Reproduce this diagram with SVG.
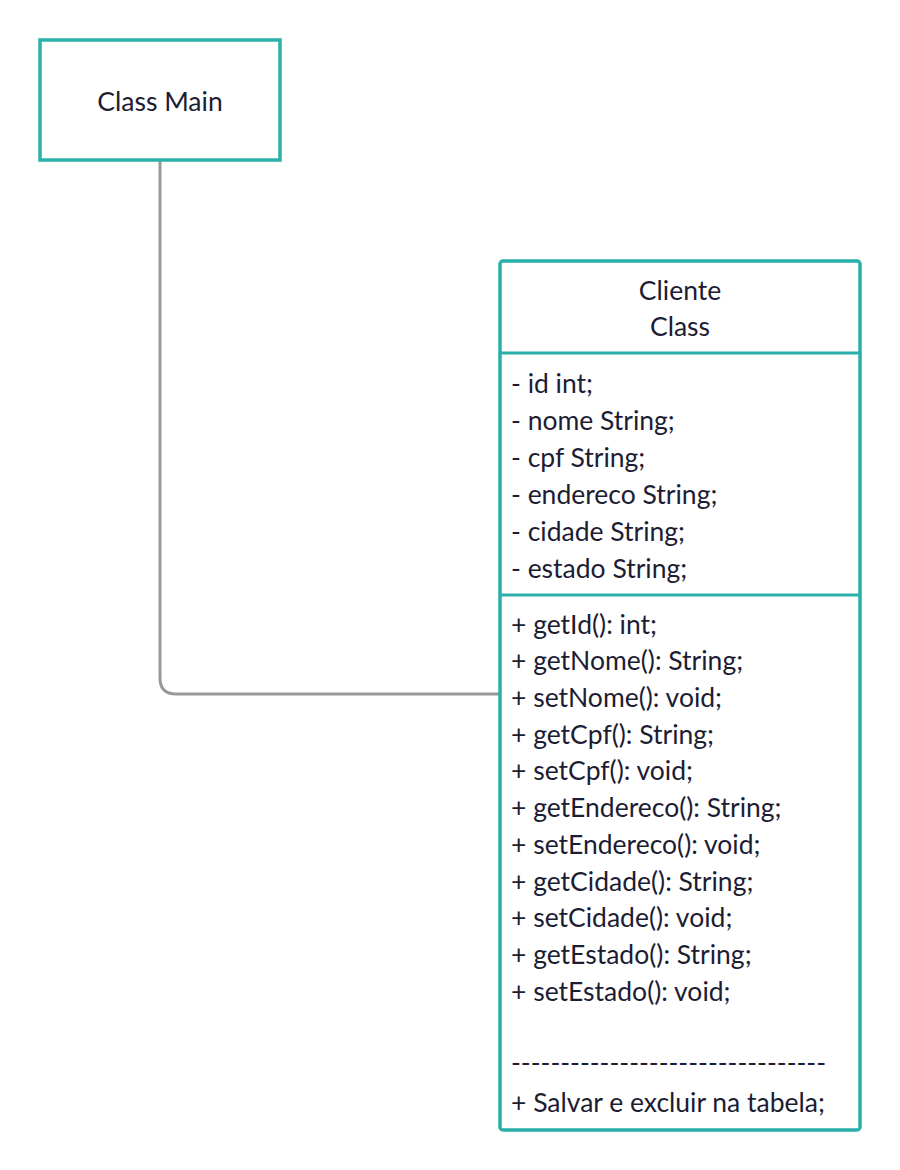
<svg xmlns="http://www.w3.org/2000/svg" width="900" height="1170" viewBox="0 0 900 1170">
<style>
.box{fill:#ffffff;stroke:#2ab0aa;stroke-width:3.5}
.div{stroke:#2ab0aa;stroke-width:3}
.t{font-family:Lato,"Liberation Sans",sans-serif;font-size:26.5px;fill:#1c1c33}
.c{text-anchor:middle}
.conn{fill:none;stroke:#999999;stroke-width:3}
</style>
<rect width="900" height="1170" fill="#ffffff"/>
<g id="connectors">
<path class="conn" d="M160,160 V678 Q160,694 176,694 H500"/>
</g>
<g id="main">
<rect class="box" x="40" y="40" width="240" height="120"/>
<text class="t c" x="160" y="111">Class Main</text>
</g>
<g id="cliente">
<rect class="box" x="500" y="261" width="360" height="869" rx="3"/>
<line class="div" x1="500" y1="353" x2="860" y2="353"/>
<line class="div" x1="500" y1="595" x2="860" y2="595"/>
<text class="t c" x="680" y="300">Cliente</text>
<text class="t c" x="680" y="336">Class</text>
<text class="t" x="511">
<tspan x="511" y="393">- id int;</tspan>
<tspan x="511" y="430">- nome String;</tspan>
<tspan x="511" y="467">- cpf String;</tspan>
<tspan x="511" y="504">- endereco String;</tspan>
<tspan x="511" y="541">- cidade String;</tspan>
<tspan x="511" y="578">- estado String;</tspan>
</text>
<text class="t" x="511">
<tspan x="511" y="634">+ getId(): int;</tspan>
<tspan x="511" y="670">+ getNome(): String;</tspan>
<tspan x="511" y="707">+ setNome(): void;</tspan>
<tspan x="511" y="744">+ getCpf(): String;</tspan>
<tspan x="511" y="780">+ setCpf(): void;</tspan>
<tspan x="511" y="817">+ getEndereco(): String;</tspan>
<tspan x="511" y="854">+ setEndereco(): void;</tspan>
<tspan x="511" y="891">+ getCidade(): String;</tspan>
<tspan x="511" y="927">+ setCidade(): void;</tspan>
<tspan x="511" y="964">+ getEstado(): String;</tspan>
<tspan x="511" y="1001">+ setEstado(): void;</tspan>
<tspan x="511" y="1072">--------------------------------</tspan>
<tspan x="511" y="1112">+ Salvar e excluir na tabela;</tspan>
</text>
</g>
</svg>
